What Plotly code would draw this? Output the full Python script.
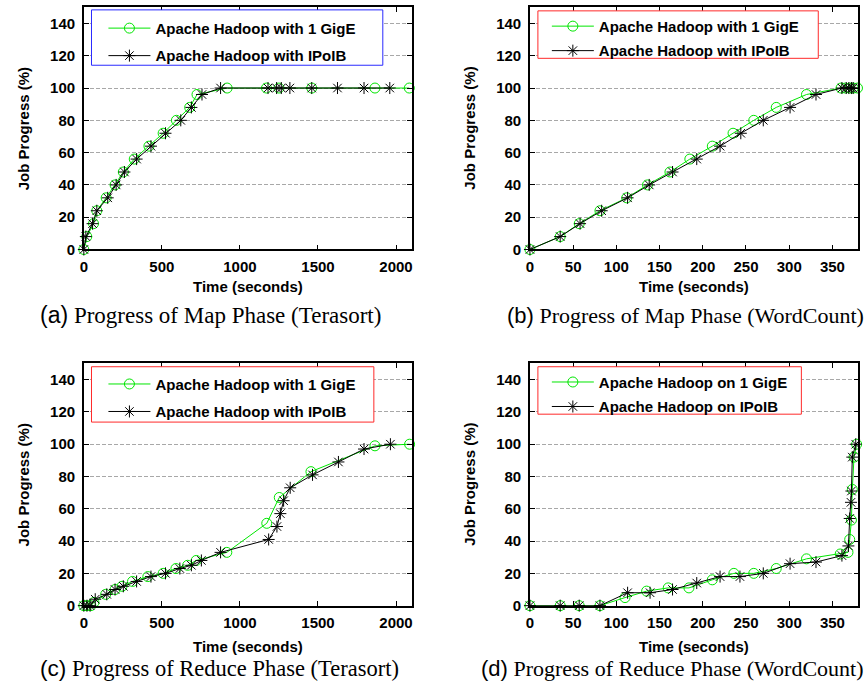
import plotly.graph_objects as go

# ---------------- data ----------------
# (a) Map phase, Terasort
a_gige_t = [0, 19, 62, 83, 143, 200, 253, 323, 417, 508, 593, 678, 725, 918, 1170, 1250, 1460, 1865, 2085]
a_gige_p = [0, 8, 16, 24, 32, 40, 48, 56, 64, 72, 80, 88, 96, 100, 100, 100, 100, 100, 100]
a_ipoib_t = [0, 13, 56, 83, 153, 207, 260, 338, 430, 523, 621, 689, 757, 876, 1180, 1235, 1265, 1320, 1460, 1625, 1795, 1960]
a_ipoib_p = [0, 8, 16, 24, 32, 40, 48, 56, 64, 72, 80, 88, 96, 100, 100, 100, 100, 100, 100, 100, 100, 100]

# (b) Map phase, WordCount
b_gige_t = [0, 35, 57, 81, 112, 136, 162, 185, 211, 235, 259, 285, 320, 360, 365, 370, 374, 379]
b_gige_p = [0, 8, 16, 24, 32, 40, 48, 56, 64, 72, 80, 88, 96, 100, 100, 100, 100, 100]
b_ipoib_t = [0, 35, 58, 83, 113, 138, 165, 193, 220, 244, 270, 301, 331, 361, 366, 369, 372, 374]
b_ipoib_p = [0, 8, 16, 24, 32, 40, 48, 56, 64, 72, 80, 88, 96, 100, 100, 100, 100, 100]

# (c) Reduce phase, Terasort
c_gige_t = [0, 20, 45, 65, 140, 200, 245, 312, 410, 508, 590, 665, 720, 916, 1172, 1252, 1455, 1865, 2087]
c_gige_p = [0, 0, 0, 2, 7, 10, 12, 15, 18, 20, 23, 25, 28, 33, 51, 67, 83, 99, 100]
c_ipoib_t = [0, 20, 40, 73, 147, 200, 253, 338, 430, 523, 615, 689, 753, 876, 1184, 1237, 1259, 1280, 1322, 1465, 1631, 1795, 1964]
c_ipoib_p = [0, 0, 0, 4, 7, 10, 12, 15, 18, 20, 23, 25, 28, 33, 41, 49, 57, 65, 73, 81, 89, 97, 100]

# (d) Reduce phase, WordCount
d_gige_t = [0, 35, 57, 81, 110, 135, 160, 184, 211, 236, 259, 285, 320, 359, 368, 370, 372, 373, 375, 378]
d_gige_p = [0, 0, 0, 0, 5, 9, 11, 11, 16, 20, 20, 23, 29, 32, 33, 41, 53, 72, 92, 100]
d_ipoib_t = [0, 35, 57, 81, 113, 139, 165, 193, 220, 243, 270, 301, 331, 361, 368.5, 370, 371.5, 372, 373, 377]
d_ipoib_p = [0, 0, 0, 0, 8, 8, 10, 14, 18, 18, 20, 26, 27, 31, 37, 54, 64, 71, 92, 100]

names_with = ["Apache Hadoop with 1 GigE", "Apache Hadoop with IPoIB"]
names_on = ["Apache Hadoop on 1 GigE", "Apache Hadoop on IPoIB"]
captions = ["Progress of Map Phase (Terasort)", "Progress of Map Phase (WordCount)",
            "Progress of Reduce Phase (Terasort)", "Progress of Reduce Phase (WordCount)"]
caption_tags = ["(a)", "(b)", "(c)", "(d)"]
y_ticks = [0, 20, 40, 60, 80, 100, 120, 140]
x_ticks_terasort = [0, 500, 1000, 1500, 2000]
x_ticks_wordcount = [0, 50, 100, 150, 200, 250, 300, 350]

# ---------------- styling / layout ----------------
W, H = 867, 696
GREEN = "#00e600"
BLACK = "#000000"
FONT = "Liberation Sans"
SERIF = "Liberation Serif"
FS = 15

def px_x(v):
    return v / W

def px_y(v):
    return 1 - v / H

col_dom = [[px_x(80.3), px_x(410.0)], [px_x(529.0), px_x(859.3)]]
row_dom = [[px_y(252.4), px_y(7.4)], [px_y(612.7), px_y(367.7)]]

# legend frame boxes (pixels: x0, y0, x1, y1), legend anchor (x, y), group gap
panels = [
    dict(data=(a_gige_t, a_gige_p, a_ipoib_t, a_ipoib_p), names=names_with, col=0, row=0,
         xr=[0, 2100], xt=x_ticks_terasort,
         box=(88, 10, 381, 66), bc="#2a2aff", lx=100, ly=12, gap=5, cap=23),
    dict(data=(b_gige_t, b_gige_p, b_ipoib_t, b_ipoib_p), names=names_with, col=1, row=0,
         xr=[0, 380], xt=x_ticks_wordcount,
         box=(537, 11, 819, 59), bc="#ff2a2a", lx=546, ly=10, gap=2, cap=22),
    dict(data=(c_gige_t, c_gige_p, c_ipoib_t, c_ipoib_p), names=names_with, col=0, row=1,
         xr=[0, 2100], xt=x_ticks_terasort,
         box=(88, 371, 372, 427), bc="#ff2a2a", lx=100, ly=372, gap=5, cap=22.5),
    dict(data=(d_gige_t, d_gige_p, d_ipoib_t, d_ipoib_p), names=names_on, col=1, row=1,
         xr=[0, 380], xt=x_ticks_wordcount,
         box=(537, 371, 802, 419), bc="#ff2a2a", lx=546, ly=370, gap=2, cap=22),
]

fig = go.Figure()
layout = dict(
    width=W, height=H,
    margin=dict(l=0, r=0, t=0, b=0),
    paper_bgcolor="white", plot_bgcolor="white",
    font=dict(family=FONT, size=FS, color="black"),
    showlegend=True,
)
annotations = []
shapes = []

for i, p in enumerate(panels):
    k = "" if i == 0 else str(i + 1)
    xa, ya = "x" + k, "y" + k
    legname = "legend" + k
    gt, gp, it, ip = p["data"]
    fig.add_trace(go.Scatter(
        x=gt, y=gp, mode="lines+markers", name=p["names"][0],
        line=dict(color=GREEN, width=1),
        marker=dict(symbol="circle-open", size=10, color=GREEN, line=dict(width=1, color=GREEN)),
        xaxis=xa, yaxis=ya, legend=legname, legendgroup="g%d" % i, cliponaxis=False))
    fig.add_trace(go.Scatter(
        x=it, y=ip, mode="lines+markers", name=p["names"][1],
        line=dict(color=BLACK, width=1),
        marker=dict(symbol="asterisk-open", size=10, color=BLACK, line=dict(width=1, color=BLACK)),
        xaxis=xa, yaxis=ya, legend=legname, legendgroup="i%d" % i, cliponaxis=False))

    common = dict(showline=True, linecolor="black", linewidth=1.5, mirror="ticks",
                  ticks="inside", ticklen=5, tickcolor="black", tickwidth=1,
                  zeroline=False, tickfont=dict(family=FONT, size=FS, weight="bold"))
    layout["xaxis" + k] = dict(domain=col_dom[p["col"]], range=p["xr"], anchor=ya,
                               tickvals=p["xt"], showgrid=False, ticklabelstandoff=3, **common)
    layout["yaxis" + k] = dict(domain=row_dom[p["row"]], range=[0, 150], anchor=xa,
                               tickvals=y_ticks, showgrid=True, gridcolor="#a8a8a8",
                               griddash="4px,2px", gridwidth=1, ticklabelstandoff=4, **common)
    layout[legname] = dict(x=px_x(p["lx"]), y=px_y(p["ly"]), xanchor="left", yanchor="top",
                           bgcolor="rgba(0,0,0,0)", borderwidth=0,
                           tracegroupgap=p["gap"], traceorder="grouped", itemwidth=42,
                           font=dict(family=FONT, size=FS, weight="bold"))
    bx0, by0, bx1, by1 = p["box"]
    shapes.append(dict(type="rect", xref="paper", yref="paper",
                       x0=px_x(bx0), x1=px_x(bx1), y0=px_y(by1), y1=px_y(by0),
                       fillcolor="white", line=dict(color=p["bc"], width=1), layer="above"))

    cx = sum(col_dom[p["col"]]) / 2
    cy = sum(row_dom[p["row"]]) / 2
    xt_y = 290 if p["row"] == 0 else 654
    annotations.append(dict(text="<b>Time (seconds)</b>", x=cx, y=px_y(xt_y), xref="paper", yref="paper",
                            showarrow=False, xanchor="center", yanchor="middle",
                            font=dict(family=FONT, size=FS)))
    yt_x = 20 if p["col"] == 0 else 468
    annotations.append(dict(text="<b>Job Progress (%)</b>", x=px_x(yt_x), y=cy, xref="paper", yref="paper",
                            showarrow=False, xanchor="center", yanchor="middle", textangle=-90,
                            font=dict(family=FONT, size=FS)))
    cap_y = 319 if p["row"] == 0 else 676
    cap_text = "<span style=\"font-family:'Liberation Sans Narrow','Liberation Sans'\">" + caption_tags[i] + "</span> " + captions[i]
    if p["col"] == 0:
        annotations.append(dict(text=cap_text, x=px_x(34), y=px_y(cap_y), xref="paper", yref="paper",
                                showarrow=False, xanchor="left", yanchor="middle",
                                font=dict(family=SERIF, size=p["cap"])))
    else:
        annotations.append(dict(text=cap_text, x=px_x(867), y=px_y(cap_y), xref="paper", yref="paper",
                                showarrow=False, xanchor="right", yanchor="middle",
                                font=dict(family=SERIF, size=p["cap"])))

layout["annotations"] = annotations
layout["shapes"] = shapes
fig.update_layout(**layout)
fig.write_html("out.html")
